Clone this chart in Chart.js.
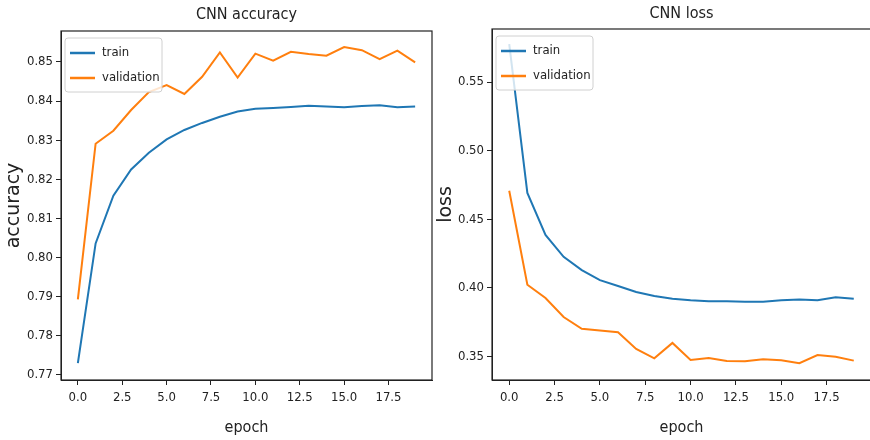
<!DOCTYPE html>
<html>
<head>
<meta charset="utf-8">
<script src="https://cdn.jsdelivr.net/npm/chart.js@4.4.1/dist/chart.umd.min.js"></script>
<style>
  html, body { margin: 0; padding: 0; background: #fff; overflow: hidden; }
  body { width: 870px; height: 440px; position: relative; }
  canvas { position: absolute; top: 0; }
  #accChart { left: 0; }
  #lossChart { left: 432px; }
</style>
</head>
<body>
<canvas id="accChart" width="435" height="440"></canvas>
<canvas id="lossChart" width="453" height="440"></canvas>
<script>
const epochs = [0, 1, 2, 3, 4, 5, 6, 7, 8, 9, 10, 11, 12, 13, 14, 15, 16, 17, 18, 19];

const accTrain = [0.7730, 0.8036, 0.8158, 0.8225, 0.8268, 0.8302, 0.8326, 0.8344, 0.8360, 0.8373,
                  0.8380, 0.8382, 0.8385, 0.8388, 0.8386, 0.8384, 0.8387, 0.8389, 0.8384, 0.8386];
const accVal = [0.7893, 0.8291, 0.8324, 0.8377, 0.8423, 0.8441, 0.8418, 0.8462, 0.8524, 0.8460,
                0.8521, 0.8503, 0.8526, 0.8520, 0.8516, 0.8538, 0.8530, 0.8507, 0.8529, 0.8499];

const lossTrain = [0.5775, 0.4692, 0.4386, 0.4227, 0.4130, 0.4057, 0.4015, 0.3971, 0.3942, 0.3922,
                   0.3910, 0.3903, 0.3903, 0.3900, 0.3899, 0.3910, 0.3916, 0.3910, 0.3933, 0.3921];
const lossVal = [0.4708, 0.4024, 0.3927, 0.3789, 0.3703, 0.3690, 0.3678, 0.3556, 0.3488, 0.3600,
                 0.3476, 0.3490, 0.3468, 0.3467, 0.3481, 0.3474, 0.3452, 0.3512, 0.3500, 0.3471];

const epochTicks = [0, 2.5, 5, 7.5, 10, 12.5, 15, 17.5];
const accTicks = [0.77, 0.78, 0.79, 0.80, 0.81, 0.82, 0.83, 0.84, 0.85];
const lossTicks = [0.35, 0.40, 0.45, 0.50, 0.55];

const FONT = "'DejaVu Sans Condensed', 'Liberation Sans Narrow', 'DejaVu Sans', sans-serif";
const FONT_WIDE = "'DejaVu Sans', sans-serif"; // подписи оси Y (повернутый текст)
const TEXT = '#222';
const BLUE = '#1f77b4';
const ORANGE = '#ff7f0e';

// рамка вокруг области графика и легенда в левом верхнем углу (как в matplotlib)
const boxLegend = {
  id: 'boxLegend',
  afterDatasetsDraw(chart) {
    const { ctx, chartArea: a } = chart;
    ctx.save();
    ctx.strokeStyle = TEXT;
    ctx.lineWidth = 1.2;
    ctx.strokeRect(a.left, a.top, a.right - a.left, a.bottom - a.top);

    const x = a.left + 4, y = a.top + 7, w = 97, h = 54;
    ctx.beginPath();
    ctx.roundRect(x, y, w, h, 3);
    ctx.fillStyle = 'rgba(255,255,255,0.8)';
    ctx.fill();
    ctx.strokeStyle = '#d0d0d0';
    ctx.lineWidth = 1;
    ctx.stroke();

    chart.data.datasets.forEach((ds, i) => {
      const ly = y + 15 + i * 25;
      ctx.beginPath();
      ctx.moveTo(x + 5, ly);
      ctx.lineTo(x + 30, ly);
      ctx.strokeStyle = ds.borderColor;
      ctx.lineWidth = 2.5;
      ctx.stroke();
      ctx.fillStyle = TEXT;
      ctx.font = '13px ' + FONT;
      ctx.textBaseline = 'middle';
      ctx.fillText(ds.label, x + 37, ly);
    });
    ctx.restore();
  }
};

function makeChart(id, title, yLabel, train, val, yTicks, yMin, yMax, sizes) {
  const ctx = document.getElementById(id).getContext('2d');
  return new Chart(ctx, {
    type: 'line',
    data: {
      datasets: [
        { label: 'train', data: epochs.map((e, i) => ({ x: e, y: train[i] })), borderColor: BLUE, borderWidth: 2, pointRadius: 0, tension: 0 },
        { label: 'validation', data: epochs.map((e, i) => ({ x: e, y: val[i] })), borderColor: ORANGE, borderWidth: 2, pointRadius: 0, tension: 0 }
      ]
    },
    plugins: [boxLegend],
    options: {
      responsive: false,
      animation: false,
      devicePixelRatio: 1,
      layout: { padding: { left: 0, right: sizes.padRight, top: 0, bottom: 0 } },
      plugins: {
        legend: { display: false },
        tooltip: { enabled: false },
        title: {
          display: true,
          text: title,
          fullSize: false,
          color: TEXT,
          font: { family: FONT, size: 16, weight: 'normal' },
          padding: { top: sizes.titleTop, bottom: sizes.titleBottom }
        }
      },
      scales: {
        x: {
          type: 'linear',
          min: -0.95,
          max: 19.95,
          afterBuildTicks: s => { s.ticks = epochTicks.map(v => ({ value: v })); },
          afterFit: s => { s.height = 60; },
          ticks: { callback: v => v.toFixed(1), color: TEXT, font: { family: FONT, size: 13 }, padding: 5, maxRotation: 0, autoSkip: false },
          grid: { drawOnChartArea: false, tickLength: 5, color: TEXT },
          border: { color: TEXT },
          title: { display: true, text: 'epoch', color: TEXT, font: { family: FONT, size: 16 }, padding: { top: 0, bottom: 3 } }
        },
        y: {
          min: yMin,
          max: yMax,
          afterBuildTicks: s => { s.ticks = yTicks.map(v => ({ value: v })); },
          afterFit: s => { s.width = sizes.yWidth; },
          ticks: { callback: v => v.toFixed(2), color: TEXT, font: { family: FONT, size: 13 }, padding: 3, autoSkip: false },
          grid: { drawOnChartArea: false, tickLength: 5, color: TEXT },
          border: { color: TEXT },
          title: { display: true, text: yLabel, color: TEXT, font: { family: FONT_WIDE, size: 19 }, padding: { top: sizes.yTitlePad, bottom: 0 } }
        }
      }
    }
  });
}

makeChart('accChart', 'CNN accuracy', 'accuracy', accTrain, accVal, accTicks, 0.7687, 0.8579,
  { padRight: 3, titleTop: 5, titleBottom: 6.8, yWidth: 61, yTitlePad: 3 });

makeChart('lossChart', 'CNN loss', 'loss', lossTrain, lossVal, lossTicks, 0.333, 0.5886,
  { padRight: 14, titleTop: 4, titleBottom: 5.8, yWidth: 60, yTitlePad: 2.5 });
</script>
</body>
</html>
